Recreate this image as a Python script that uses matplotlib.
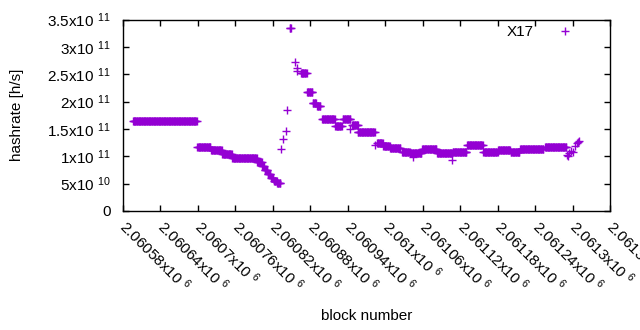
import matplotlib
matplotlib.use('Agg')
import matplotlib.pyplot as plt
import numpy as np

# runs of blocks with the same hashrate: start block, end block (exclusive), hashrate
run_start = [2060596, 2060699, 2060721, 2060739, 2060755, 2060795, 2060803, 2060807,
             2060812, 2060817, 2060822, 2060827, 2060847, 2060865, 2060875, 2060884,
             2060891, 2060899, 2060920, 2060932, 2060947, 2060956, 2060987, 2060997,
             2061008, 2061027, 2061040, 2061059, 2061083, 2061108, 2061131, 2061157,
             2061181, 2061201, 2061216, 2061256]
run_end = [2060699, 2060721, 2060739, 2060755, 2060795, 2060803, 2060807, 2060812,
           2060817, 2060822, 2060827, 2060833, 2060850, 2060875, 2060884, 2060890,
           2060897, 2060920, 2060931, 2060945, 2060957, 2060984, 2060997, 2061008,
           2061025, 2061040, 2061059, 2061083, 2061108, 2061131, 2061157, 2061181,
           2061201, 2061216, 2061254, 2061291]
run_rate = [1.65e11, 1.17e11, 1.12e11, 1.045e11, 0.97e11, 0.90e11, 0.83e11, 0.75e11,
            0.68e11, 0.61e11, 0.55e11, 0.52e11, 3.35e11, 2.53e11, 2.18e11, 1.98e11,
            1.92e11, 1.69e11, 1.56e11, 1.686e11, 1.576e11, 1.448e11, 1.246e11, 1.19e11,
            1.16e11, 1.08e11, 1.06e11, 1.14e11, 1.06e11, 1.08e11, 1.21e11, 1.08e11,
            1.118e11, 1.08e11, 1.136e11, 1.17e11]

# single blocks that stand out of the runs
odd_block = [2060833, 2060836, 2060841, 2060843, 2060855, 2060858, 2060859,
             2060944, 2060984, 2061045, 2061107, 2061291, 2061293, 2061295,
             2061298, 2061301, 2061304, 2061307, 2061309, 2061311]
odd_rate = [1.14e11, 1.32e11, 1.466e11, 1.85e11, 2.73e11, 2.55e11, 2.62e11,
            1.50e11, 1.21e11, 0.99e11, 0.93e11, 1.03e11, 1.00e11, 1.06e11,
            1.09e11, 1.07e11, 1.19e11, 1.24e11, 1.27e11, 1.28e11]

x_ticks = np.arange(2060580, 2061361, 60)
y_ticks = [0, 5e10, 1e11, 1.5e11, 2e11, 2.5e11, 3e11, 3.5e11]

plt.rcParams['font.family'] = ['Liberation Sans', 'DejaVu Sans']
plt.rcParams['mathtext.default'] = 'regular'
plt.rcParams['font.size'] = 11

# expand the runs into one point per block
blocks = []
rates = []
for s, e, r in zip(run_start, run_end, run_rate):
    for b in range(s, e):
        blocks.append(b)
        rates.append(r)
blocks += odd_block
rates += odd_rate


def sci_label(v):
    if v == 0:
        return '0'
    exp = int(np.floor(np.log10(v)))
    mant = v / 10 ** exp
    return '%gx10 $^{%d}$' % (round(mant, 6), exp)


fig = plt.figure(figsize=(6.4, 3.3), dpi=100)
ax = fig.add_axes([123 / 640, 1 - 211 / 330, 487 / 640, 191.5 / 330])

ax.plot(blocks, rates, linestyle='none', marker='+', markersize=5.5,
        markeredgewidth=1.0, color='#9400d3', label='X17')

ax.set_xlim(2060580, 2061360)
ax.set_ylim(0, 3.5e11)
ax.set_xticks(x_ticks)
ax.set_xticklabels([sci_label(v) for v in x_ticks], rotation=-45,
                   ha='left', va='center', rotation_mode='anchor')
ax.set_yticks(y_ticks)
ax.set_yticklabels([sci_label(v) for v in y_ticks])
ax.tick_params(direction='in', length=4, width=1, top=True, right=True)
ax.tick_params(axis='y', pad=9)
ax.tick_params(axis='x', pad=9)
for sp in ax.spines.values():
    sp.set_linewidth(1)

ax.set_xlabel('block number')
ax.xaxis.set_label_coords(0.5, -0.51)
ax.set_ylabel('hashrate [h/s]')
ax.yaxis.set_label_coords(-0.203, 0.5)

ax.legend(loc='upper right', bbox_to_anchor=(0.957, 0.97), frameon=False,
          markerfirst=False, handlelength=3.2, handletextpad=0.4,
          borderaxespad=0, borderpad=0)

fig.savefig('out.png', dpi=100)
